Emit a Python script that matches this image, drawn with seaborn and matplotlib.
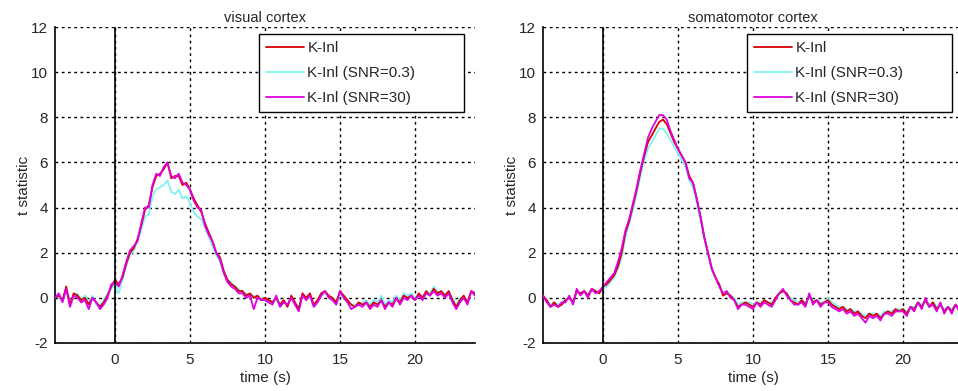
import numpy as np
import pandas as pd
import matplotlib
matplotlib.use("Agg")
import matplotlib.pyplot as plt
import seaborn as sns

# time axis, 0.25 s steps from -4 s to 24 s
time_s = np.arange(-4, 24.001, 0.25)

# visual cortex: t statistic per series
visual_knl = [
    0.0, 0.1, -0.1, 0.5, -0.3, 0.2, 0.1, -0.1,
    0.0, -0.3, 0.0, -0.2, -0.4, -0.2, 0.1, 0.5,
    0.8, 0.6, 0.9, 1.5, 2.0, 2.2, 2.6, 3.2,
    3.9, 4.1, 4.9, 5.4, 5.5, 5.7, 6.0, 5.3,
    5.4, 5.4, 5.0, 5.1, 4.8, 4.4, 4.1, 3.8,
    3.3, 2.9, 2.5, 2.0, 1.8, 1.2, 0.8, 0.6,
    0.5, 0.3, 0.3, 0.1, 0.2, 0.0, 0.1, -0.1,
    0.0, -0.1, -0.2, 0.0, -0.3, -0.1, -0.4, 0.1,
    -0.2, -0.5, 0.2, 0.0, 0.2, -0.3, -0.1, 0.2,
    0.3, 0.1, 0.0, -0.2, 0.3, 0.1, -0.1, -0.3,
    -0.4, -0.2, -0.3, -0.2, -0.4, -0.2, -0.3, -0.1,
    -0.4, -0.2, -0.3, 0.0, -0.2, 0.1, 0.0, 0.1,
    -0.1, 0.2, 0.0, 0.3, 0.1, 0.4, 0.2, 0.3,
    0.1, 0.3, -0.1, -0.4, -0.1, 0.1, -0.2, 0.3,
    0.2,
]
visual_snr03 = [
    0.1, 0.0, -0.1, 0.3, -0.2, 0.1, 0.2, -0.1,
    0.1, -0.2, 0.1, -0.3, -0.3, -0.1, 0.2, 0.4,
    0.6, 0.2, 0.8, 1.4, 1.9, 2.1, 2.5, 3.0,
    3.6, 3.7, 4.5, 4.8, 4.9, 5.0, 5.2, 4.7,
    4.6, 4.8, 4.4, 4.5, 4.2, 3.8, 3.6, 3.5,
    3.1, 2.7, 2.3, 1.9, 1.6, 1.1, 0.8, 0.7,
    0.5, 0.4, 0.2, 0.2, 0.1, 0.1, 0.0, 0.0,
    -0.1, -0.2, -0.1, -0.1, -0.4, -0.2, -0.3, 0.0,
    -0.3, -0.4, 0.1, -0.1, 0.1, -0.4, -0.2, 0.1,
    0.2, 0.1, -0.1, -0.3, 0.2, 0.0, -0.2, -0.3,
    -0.3, -0.3, -0.2, -0.1, -0.3, -0.1, -0.2, 0.1,
    -0.3, -0.1, -0.2, 0.1, -0.1, 0.2, 0.1, 0.2,
    0.0, 0.1, 0.1, 0.2, 0.2, 0.5, 0.3, 0.2,
    0.2, 0.2, 0.0, -0.3, 0.0, 0.0, -0.1, 0.2,
    0.3,
]
visual_snr30 = [
    0.0, 0.2, -0.2, 0.4, -0.4, 0.1, 0.0, -0.2,
    -0.1, -0.5, 0.0, -0.2, -0.5, -0.3, 0.0, 0.6,
    0.7, 0.5, 1.0, 1.6, 2.1, 2.3, 2.5, 3.3,
    4.0, 4.0, 5.0, 5.5, 5.4, 5.8, 6.0, 5.4,
    5.3, 5.5, 5.1, 5.0, 4.8, 4.3, 4.0, 3.9,
    3.2, 2.8, 2.5, 2.0, 1.7, 1.1, 0.7, 0.5,
    0.4, 0.2, 0.2, 0.0, 0.1, -0.5, 0.0, -0.1,
    -0.1, -0.2, -0.3, 0.1, -0.4, -0.2, -0.3, 0.0,
    -0.3, -0.6, 0.1, -0.1, 0.1, -0.4, -0.2, 0.1,
    0.3, 0.0, -0.1, -0.3, 0.3, 0.0, -0.2, -0.5,
    -0.4, -0.3, -0.4, -0.2, -0.5, -0.3, -0.4, -0.1,
    -0.5, -0.2, -0.4, 0.0, -0.3, 0.0, -0.1, 0.1,
    -0.1, 0.1, -0.1, 0.2, 0.1, 0.3, 0.1, 0.2,
    0.0, 0.2, -0.2, -0.5, -0.2, 0.0, -0.3, 0.3,
    0.1,
]

# somatomotor cortex
somato_knl = [
    0.1, -0.1, -0.4, -0.2, -0.4, -0.3, -0.1, 0.0,
    -0.2, 0.3, 0.2, 0.3, 0.1, 0.4, 0.3, 0.2,
    0.5, 0.6, 0.8, 1.0, 1.4, 2.0, 2.9, 3.4,
    4.1, 4.8, 5.6, 6.3, 6.9, 7.2, 7.5, 7.8,
    7.9, 7.7, 7.3, 6.9, 6.6, 6.3, 6.0, 5.4,
    5.1, 4.4, 3.6, 2.7, 2.0, 1.3, 0.9, 0.6,
    0.1, 0.2, 0.1, -0.1, -0.4, -0.3, -0.2, -0.3,
    -0.4, -0.2, -0.3, -0.1, -0.2, -0.3, 0.0, 0.2,
    0.3, 0.2, -0.1, -0.2, -0.3, -0.1, -0.3, 0.1,
    -0.2, -0.1, -0.3, -0.2, -0.1, -0.3, -0.4, -0.5,
    -0.4, -0.6, -0.5, -0.7, -0.6, -0.8, -0.9, -0.7,
    -0.8, -0.7, -0.9, -0.7, -0.6, -0.7, -0.5, -0.6,
    -0.5, -0.7, -0.4, -0.5, -0.2, -0.4, -0.1, -0.4,
    -0.2, -0.5, -0.3, -0.6, -0.4, -0.6, -0.3, -0.5,
    -0.6,
]
somato_snr03 = [
    0.0, -0.1, -0.3, -0.2, -0.3, -0.2, -0.1, 0.0,
    -0.1, 0.2, 0.2, 0.3, 0.1, 0.3, 0.3, 0.2,
    0.4, 0.5, 0.7, 0.9, 1.3, 1.8, 2.7, 3.3,
    3.9, 4.6, 5.4, 6.1, 6.6, 6.9, 7.2, 7.5,
    7.5, 7.3, 7.0, 6.7, 6.4, 6.1, 5.8, 5.2,
    4.9, 4.2, 3.4, 2.6, 1.9, 1.2, 0.9, 0.6,
    0.2, 0.3, 0.1, 0.0, -0.3, -0.2, -0.2, -0.2,
    -0.3, -0.2, -0.2, -0.1, -0.2, -0.2, 0.0, 0.2,
    0.3, 0.1, 0.0, -0.1, -0.2, -0.1, -0.2, 0.0,
    -0.1, -0.1, -0.2, -0.2, 0.0, -0.2, -0.3, -0.4,
    -0.4, -0.5, -0.5, -0.6, -0.6, -0.7, -0.8, -0.7,
    -0.7, -0.7, -0.8, -0.6, -0.6, -0.6, -0.5, -0.5,
    -0.5, -0.6, -0.4, -0.4, -0.2, -0.3, -0.1, -0.3,
    -0.2, -0.4, -0.3, -0.5, -0.4, -0.5, -0.3, -0.5,
    -0.5,
]
somato_snr30 = [
    0.1, -0.2, -0.4, -0.3, -0.4, -0.2, -0.2, 0.1,
    -0.3, 0.4, 0.1, 0.3, 0.0, 0.4, 0.2, 0.3,
    0.5, 0.7, 0.9, 1.1, 1.6, 2.2, 3.0, 3.5,
    4.2, 4.9, 5.7, 6.4, 7.1, 7.5, 7.8, 8.1,
    8.1, 7.9, 7.4, 7.0, 6.6, 6.3, 6.0, 5.3,
    5.1, 4.4, 3.6, 2.7, 2.0, 1.3, 0.9, 0.5,
    0.2, 0.3, 0.0, -0.1, -0.5, -0.3, -0.3, -0.4,
    -0.5, -0.2, -0.4, -0.2, -0.3, -0.4, -0.1, 0.2,
    0.4, 0.1, -0.1, -0.3, -0.3, -0.2, -0.4, 0.2,
    -0.3, -0.1, -0.4, -0.2, -0.2, -0.4, -0.5, -0.6,
    -0.5, -0.7, -0.6, -0.8, -0.7, -0.9, -1.1, -0.8,
    -0.9, -0.8, -1.0, -0.7, -0.7, -0.8, -0.6, -0.6,
    -0.6, -0.8, -0.4, -0.6, -0.2, -0.5, 0.0, -0.4,
    -0.3, -0.6, -0.2, -0.7, -0.4, -0.7, -0.3, -0.6,
    -0.7,
]

SERIES_NAMES = ["K-Inl", "K-Inl (SNR=0.3)", "K-Inl (SNR=30)"]
SERIES_COLORS = {"K-Inl": "#d40000", "K-Inl (SNR=0.3)": "#80f2f2",
                 "K-Inl (SNR=30)": "#e000e0"}
SERIES_Z = {"K-Inl": 3, "K-Inl (SNR=0.3)": 2, "K-Inl (SNR=30)": 4}

PANELS = [
    ("visual cortex", [visual_knl, visual_snr03, visual_snr30]),
    ("somatomotor cortex", [somato_knl, somato_snr03, somato_snr30]),
]

sns.set_style("white")
plt.rcParams["font.family"] = ["Liberation Sans", "DejaVu Sans"]
plt.rcParams["axes.unicode_minus"] = False

fig = plt.figure(figsize=(9.58, 3.91), dpi=100)
axes = [fig.add_axes([0.0574, 0.1228, 0.4384, 0.808]),
        fig.add_axes([0.5668, 0.1228, 0.4384, 0.808])]

for ax, (title, series) in zip(axes, PANELS):
    for name, values in zip(SERIES_NAMES, series):
        df = pd.DataFrame({"time": time_s, "t": values})
        sns.lineplot(data=df, x="time", y="t", ax=ax, color=SERIES_COLORS[name],
                     linewidth=1.3, label=name, zorder=SERIES_Z[name])

    ax.axvline(0, color="black", linewidth=1.2, zorder=5)
    ax.set_xlim(-4, 24)
    ax.set_ylim(-2, 12)
    ax.set_xticks([0, 5, 10, 15, 20])
    ax.set_yticks(np.arange(-2, 13, 2))
    ax.grid(True, color="black", linestyle=(0, (2, 2.5)), linewidth=1.0)
    ax.set_axisbelow(True)
    ax.tick_params(direction="in", length=3, labelsize=11)
    ax.tick_params(axis="x", pad=7)
    ax.tick_params(axis="y", pad=5)
    for side in ["top", "right"]:
        ax.spines[side].set_visible(False)
    for side in ["left", "bottom"]:
        ax.spines[side].set_color("black")
        ax.spines[side].set_linewidth(1.2)
    ax.set_title(title, fontsize=10.5, pad=4)
    ax.set_xlabel("time (s)", fontsize=11, labelpad=3)
    ax.set_ylabel("t statistic", fontsize=11, labelpad=0)

    leg = ax.legend(loc="upper left", bbox_to_anchor=(0.486, 0.709, 0.488, 0.269),
                    mode="expand", borderaxespad=0, fontsize=11,
                    handlelength=2.5, handletextpad=0.2, labelspacing=0.72,
                    borderpad=0.46, fancybox=False, framealpha=1)
    leg.get_frame().set_edgecolor("black")
    leg.get_frame().set_linewidth(1.0)

plt.savefig("out.png", dpi=100)
